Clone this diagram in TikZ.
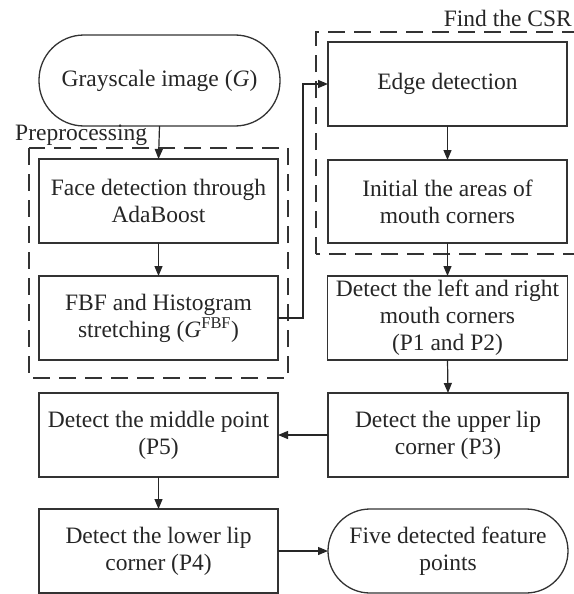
\documentclass[tikz,border=0pt]{standalone}
\usepackage{fontspec}
\setmainfont{Liberation Serif}
\usetikzlibrary{arrows.meta}
\begin{document}
\begin{tikzpicture}[x=1pt,y=-1pt,
  every node/.style={font=\fontsize{23.5}{27}\selectfont, text=black!85},
  box/.style={draw=black!80, line width=1.3pt, minimum width=239pt, minimum height=84pt, align=center, inner sep=0pt, outer sep=0pt},
  term/.style={box, rounded corners=42pt},
  grp/.style={draw=black!80, line width=1.8pt, dash pattern=on 17pt off 9pt},
  arr/.style={draw=black!85, line width=1.2pt, -{Triangle[length=10pt,width=8pt]}},
  lbl/.style={inner sep=0pt}]
\useasboundingbox (0,0) rectangle (573,594);
\fill[white] (0,0) rectangle (573,594);
% groups
\draw[grp] (29,148) rectangle (288,378);
\draw[grp] (316,254) -- (316,32) -- (590,32) -- (590,254) -- cycle;
\node[lbl, anchor=base west] (plbl) at (15,140) {Preprocessing};
\node[lbl, anchor=base east] (clbl) at (572,27) {Find the CSR};
% nodes
\node[term, minimum width=241pt, minimum height=91pt, rounded corners=45pt] (gray) at (159.5,80.5) {Grayscale image (\textit{G})};
\node[box] (face) at (158.5,201) {Face detection through\\AdaBoost};
\node[box] (fbf) at (158.5,318) {FBF and Histogram\\stretching (\textit{G}\textsuperscript{FBF})};
\node[box] (edge) at (447.5,84) {Edge detection};
\node[box, minimum height=83pt] (init) at (447.5,201.5) {Initial the areas of\\mouth corners};
\node[box, minimum width=240pt] (lr) at (447.5,318) {Detect the left and right\\mouth corners\\(P1 and P2)};
\node[box] (mid) at (158.5,435) {Detect the middle point\\(P5)};
\node[box, minimum width=240pt] (up) at (448,435) {Detect the upper lip\\corner (P3)};
\node[box] (low) at (158.5,551) {Detect the lower lip\\corner (P4)};
\node[term, minimum width=240pt] (five) at (448,551) {Five detected feature\\points};
% connectors
\coordinate (bend) at (303,318);
\draw[arr] (gray.south) -- (face.north);
\draw[arr] (face.south) -- (fbf.north);
\draw[arr] (fbf.east) -- (bend) |- (edge.west);
\draw[arr] (edge.south) -- (init.north);
\draw[arr] (init.south) -- (lr.north);
\draw[arr] (lr.south) -- (up.north);
\draw[arr] (up.west) -- (mid.east);
\draw[arr] (mid.south) -- (low.north);
\draw[arr] (low.east) -- (five.west);
\end{tikzpicture}
\end{document}
